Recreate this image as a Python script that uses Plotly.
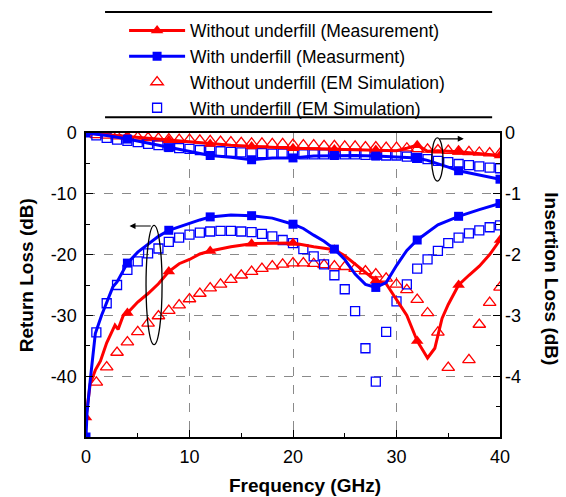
import plotly.graph_objects as go

# ---------------- data ----------------
# Return loss, measurement (left axis, dB)
rl_wo_meas_x = [0, 0.4, 0.9, 1.4, 2, 2.5, 2.8, 3.1, 3.6, 4, 5, 6, 7, 8, 9, 10, 11, 12, 14, 16, 18, 20,
                22, 24, 25, 26, 27, 28, 29, 30, 31, 32, 33, 33.7, 34.4, 35, 36, 37, 38, 39, 40]
rl_wo_meas_y = [-46.8, -41.3, -39.0, -37.5, -34.5, -32.7, -31.6, -32.3, -30.0, -29.6, -27.8, -26.4, -24.8,
                -22.8, -21.5, -20.8, -19.9, -19.4, -18.7, -18.2, -18.2, -18.1, -18.7, -19.2, -20.2, -21.6,
                -23.0, -24.3, -24.8, -27.3, -30.0, -34.2, -37.0, -35.4, -30.5, -28.2, -25.0, -23.4, -21.9,
                -20.0, -17.6]
rl_w_meas_x = [0, 0.1, 0.4, 0.9, 1.5, 2, 2.6, 3, 4, 5, 6, 7, 8, 9, 10, 11, 12, 14, 16, 18, 20, 21, 22,
               23, 24, 25, 26, 27, 28, 29, 30, 31, 32, 33, 34, 35, 36, 38, 40]
rl_w_meas_y = [-50, -46, -40.8, -33.0, -30.0, -28.0, -25.3, -24.5, -21.4, -19.6, -18.3, -17.0, -16.0, -15.4,
               -14.9, -14.3, -13.8, -13.5, -13.6, -14.0, -15.0, -15.7, -16.8, -17.8, -19.1, -20.8, -23.2,
               -24.9, -25.4, -24.6, -21.8, -19.3, -17.6, -16.3, -15.1, -14.4, -13.7, -12.6, -11.6]

# Return loss, EM simulation (left axis, dB)
rl_wo_sim_x = [1, 2, 3, 4, 5, 6, 7, 8, 9, 10, 11, 12, 13, 14, 15, 16, 17, 18, 19, 20, 21, 22, 23, 24, 25,
               26, 27, 28, 29, 30, 31, 32, 33, 34, 35, 37, 38, 39, 40]
rl_wo_sim_y = [-41.0, -38.5, -36.1, -34.4, -32.7, -31.3, -30.1, -29.2, -28.3, -27.3, -26.4, -25.5, -24.9,
               -24.1, -23.4, -22.8, -22.3, -21.9, -21.6, -21.4, -21.4, -21.5, -21.7, -21.9, -22.0, -22.3,
               -22.7, -23.2, -23.9, -24.9, -25.8, -27.4, -29.6, -32.8, -38.6, -37.3, -31.5, -27.9, -25.4]
rl_w_sim_x = list(range(1, 41))
rl_w_sim_y = [-32.8, -28.0, -25.0, -22.5, -21.1, -19.8, -19.0, -17.9, -17.2, -16.7, -16.4, -16.2, -16.1,
              -16.1, -16.2, -16.3, -16.6, -17.0, -17.6, -18.1, -19.1, -20.3, -21.6, -23.4, -25.7, -29.3,
              -35.4, -40.9, -32.7, -27.7, -24.9, -22.3, -20.8, -19.4, -18.1, -17.2, -16.5, -16.0, -15.5,
              -15.2]

# Insertion loss, measurement (right axis, dB)
il_wo_meas_x = [0, 2, 4, 6, 8, 10, 12, 14, 16, 18, 20, 22, 24, 26, 28, 30, 31, 32, 33, 34, 36, 38, 40]
il_wo_meas_y = [0, -0.03, -0.06, -0.09, -0.12, -0.15, -0.18, -0.20, -0.22, -0.24, -0.25, -0.26, -0.27,
                -0.28, -0.28, -0.29, -0.25, -0.20, -0.30, -0.29, -0.31, -0.34, -0.37]
il_w_meas_x = [0, 2, 4, 6, 8, 10, 12, 14, 16, 18, 20, 22, 24, 26, 28, 30, 32, 33, 34, 35, 36, 38, 40]
il_w_meas_y = [0, -0.04, -0.10, -0.17, -0.24, -0.31, -0.37, -0.40, -0.44, -0.41, -0.41, -0.38, -0.37,
               -0.37, -0.38, -0.39, -0.41, -0.45, -0.50, -0.56, -0.62, -0.69, -0.76]

# Insertion loss, EM simulation (right axis, dB)
il_sim_x = list(range(1, 41))
il_wo_sim_y = [-0.03, -0.04, -0.05, -0.06, -0.07, -0.08, -0.09, -0.10, -0.11, -0.11, -0.12, -0.13, -0.14,
               -0.15, -0.16, -0.17, -0.17, -0.18, -0.18, -0.19, -0.20, -0.20, -0.21, -0.21, -0.22, -0.22,
               -0.23, -0.23, -0.24, -0.24, -0.25, -0.26, -0.27, -0.28, -0.29, -0.30, -0.31, -0.32, -0.33,
               -0.34]
il_w_sim_y = [-0.04, -0.08, -0.11, -0.13, -0.15, -0.18, -0.20, -0.22, -0.25, -0.26, -0.28, -0.29, -0.30,
              -0.31, -0.32, -0.33, -0.33, -0.34, -0.34, -0.34, -0.35, -0.35, -0.35, -0.35, -0.35, -0.35,
              -0.36, -0.36, -0.37, -0.37, -0.39, -0.41, -0.43, -0.46, -0.48, -0.51, -0.53, -0.55, -0.57,
              -0.58]

marker_step = 4  # measurement markers every 4 GHz

names = ["Without underfill (Measurement)", "With underfill (Measurment)",
         "Without underfill (EM Simulation)", "With underfill (EM Simulation)"]

x_ticks = [0, 10, 20, 30, 40]
rl_ticks = [0, -10, -20, -30, -40]
rl_ticktext = ["0", "-10", "-20", "-30", "-40"]
il_ticks = [0, -1, -2, -3, -4]
il_ticktext = ["0", "-1", "-2", "-3", "-4"]

RED = "#ff0000"
BLUE = "#0000ff"
FONT = "Arial, Liberation Sans, sans-serif"


def subset(xs, ys):
    idx = [i for i, v in enumerate(xs) if float(v) % marker_step == 0]
    return [xs[i] for i in idx], [ys[i] for i in idx]


fig = go.Figure()

# EM simulation markers
fig.add_trace(go.Scatter(x=rl_wo_sim_x, y=rl_wo_sim_y, mode="markers", showlegend=False,
                         marker=dict(symbol="triangle-up-open", size=11, color=RED, line=dict(width=1.3))))
fig.add_trace(go.Scatter(x=il_sim_x, y=il_wo_sim_y, yaxis="y2", mode="markers", showlegend=False,
                         marker=dict(symbol="triangle-up-open", size=11, color=RED, line=dict(width=1.3))))
fig.add_trace(go.Scatter(x=rl_w_sim_x, y=rl_w_sim_y, mode="markers", showlegend=False,
                         marker=dict(symbol="square-open", size=9, color=BLUE, line=dict(width=1.3))))
fig.add_trace(go.Scatter(x=il_sim_x, y=il_w_sim_y, yaxis="y2", mode="markers", showlegend=False,
                         marker=dict(symbol="square-open", size=9, color=BLUE, line=dict(width=1.3))))

# measurement lines + markers
for xs, ys, ax, col, sym, sz in [
    (rl_wo_meas_x, rl_wo_meas_y, "y", RED, "triangle-up", 11),
    (il_wo_meas_x, il_wo_meas_y, "y2", RED, "triangle-up", 11),
    (rl_w_meas_x, rl_w_meas_y, "y", BLUE, "square", 9),
    (il_w_meas_x, il_w_meas_y, "y2", BLUE, "square", 9),
]:
    fig.add_trace(go.Scatter(x=xs, y=ys, yaxis=ax, mode="lines", showlegend=False,
                             line=dict(color=col, width=3)))
    mx, my = subset(xs, ys)
    fig.add_trace(go.Scatter(x=mx, y=my, yaxis=ax, mode="markers", showlegend=False,
                             marker=dict(symbol=sym, size=sz, color=col)))

# legend entries
fig.add_trace(go.Scatter(x=[None], y=[None], mode="lines+markers", name=names[0],
                         line=dict(color=RED, width=3),
                         marker=dict(symbol="triangle-up", size=11, color=RED)))
fig.add_trace(go.Scatter(x=[None], y=[None], mode="lines+markers", name=names[1],
                         line=dict(color=BLUE, width=3),
                         marker=dict(symbol="square", size=9, color=BLUE)))
fig.add_trace(go.Scatter(x=[None], y=[None], mode="markers", name=names[2],
                         marker=dict(symbol="triangle-up-open", size=11, color=RED, line=dict(width=1.3))))
fig.add_trace(go.Scatter(x=[None], y=[None], mode="markers", name=names[3],
                         marker=dict(symbol="square-open", size=9, color=BLUE, line=dict(width=1.3))))

axis_common = dict(ticks="inside", tickcolor="black", tickwidth=1.2, ticklen=7,
                   tickfont=dict(size=18, color="black", family=FONT), zeroline=False)

TITLE_FONT = dict(size=19, weight="bold", family=FONT, color="black")

fig.update_layout(
    width=566, height=497,
    margin=dict(l=86, r=66, t=128, b=60),
    plot_bgcolor="white", paper_bgcolor="white",
    font=dict(family=FONT, color="black"),
    xaxis=dict(range=[0, 40], tickvals=x_ticks, showline=True, linecolor="black", linewidth=1.5,
               mirror=True, showgrid=True, gridcolor="#8a8a8a", griddash="dash", gridwidth=1,
               minor=dict(dtick=5, tick0=0, ticks="inside", ticklen=4, tickcolor="black", showgrid=False),
               ticklabelstandoff=3, **axis_common),
    yaxis=dict(range=[-50, 0], tickvals=rl_ticks, ticktext=rl_ticktext, showline=True, linecolor="black",
               linewidth=1.5, mirror=True, showgrid=True, gridcolor="#8a8a8a", griddash="dash", gridwidth=1,
               minor=dict(dtick=5, tick0=0, ticks="inside", ticklen=4, tickcolor="black", showgrid=False),
               ticklabelstandoff=4, **axis_common),
    yaxis2=dict(range=[-5, 0], overlaying="y", side="right", tickvals=il_ticks, ticktext=il_ticktext,
                showline=False, showgrid=False,
                minor=dict(dtick=0.5, tick0=0, ticks="inside", ticklen=4, tickcolor="black", showgrid=False),
                ticklabelstandoff=4, **axis_common),
    legend=dict(x=0.092, y=1.396, xanchor="left", yanchor="top", bgcolor="rgba(0,0,0,0)",
                borderwidth=0, itemwidth=56, font=dict(size=17.5, family=FONT, color="black"),
                tracegroupgap=0),
    annotations=[
        dict(text="Return Loss (dB)", xref="paper", yref="paper", x=-0.145, y=0.532, showarrow=False,
             xanchor="center", yanchor="middle", textangle=-90, font=TITLE_FONT),
        dict(text="Insertion Loss (dB)", xref="paper", yref="paper", x=1.124, y=0.521, showarrow=False,
             xanchor="center", yanchor="middle", textangle=90, font=TITLE_FONT),
        dict(text="Frequency (GHz)", xref="paper", yref="paper", x=0.529, y=-0.160, showarrow=False,
             xanchor="center", yanchor="middle", font=TITLE_FONT),
        dict(x=4.2, y=-15.3, ax=6.4, ay=-15.3, xref="x", yref="y", axref="x", ayref="y", text="",
             showarrow=True, arrowhead=2, arrowsize=1, arrowwidth=1.2, arrowcolor="black"),
        dict(x=36.5, y=-0.95, ax=34.0, ay=-0.95, xref="x", yref="y", axref="x", ayref="y", text="",
             showarrow=True, arrowhead=2, arrowsize=1, arrowwidth=1.2, arrowcolor="black"),
    ],
    shapes=[
        dict(type="circle", xref="x", yref="y", x0=5.8, x1=7.35, y0=-34.8, y1=-15.2,
             line=dict(color="black", width=1.3)),
        dict(type="circle", xref="x", yref="y", x0=33.4, x1=34.5, y0=-7.9, y1=-0.8,
             line=dict(color="black", width=1.3)),
        dict(type="line", xref="paper", yref="paper", x0=0.046, x1=0.981, y0=1.398, y1=1.398,
             line=dict(color="black", width=2)),
        dict(type="line", xref="paper", yref="paper", x0=0.046, x1=0.981, y0=1.052, y1=1.052,
             line=dict(color="black", width=2)),
    ],
)

fig.write_html("out.html")
